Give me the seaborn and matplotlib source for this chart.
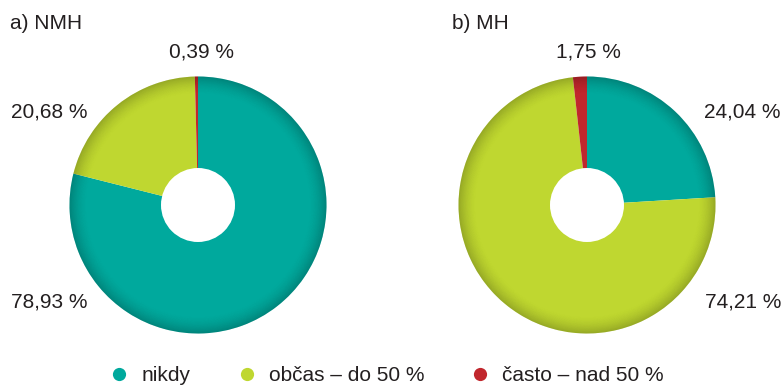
import numpy as np
import matplotlib
matplotlib.use("Agg")
import matplotlib.pyplot as plt
from matplotlib.patches import Wedge, Circle
from matplotlib.lines import Line2D
import seaborn as sns

sns.set_style("white")
plt.rcParams["font.family"] = ["Liberation Sans", "DejaVu Sans"]

categories = ["nikdy", "občas – do 50 %", "často – nad 50 %"]
panel_titles = ["a) NMH", "b) MH"]
nmh_values = [78.93, 20.68, 0.39]
mh_values = [24.04, 74.21, 1.75]
palette = sns.color_palette(["#00A99D", "#BFD730", "#C1272D"])

W, H = 784, 385
fig = plt.figure(figsize=(W / 100, H / 100), dpi=100)
ax = fig.add_axes([0, 0, 1, 1])
ax.set_xlim(0, W)
ax.set_ylim(0, H)
ax.set_aspect("equal")
ax.axis("off")

R_OUT, R_IN = 128.5, 37
FS = 15

def fmt(v):
    return f"{v:.2f}".replace(".", ",") + " %"

def donut(cx, cy, values):
    wedges, _ = ax.pie(values, colors=palette, startangle=90, counterclock=False,
                       radius=R_OUT, center=(cx, cy), frame=True,
                       wedgeprops=dict(linewidth=0))
    # darker soft rim
    n = 30
    radii = np.linspace(R_OUT * 0.86, R_OUT, n + 1)
    for i in range(n):
        t = (i + 1) / n
        ax.add_patch(Wedge((cx, cy), radii[i + 1], 0, 360,
                           width=radii[i + 1] - radii[i],
                           facecolor="black", alpha=0.22 * t ** 1.8, lw=0))
    ax.add_patch(Circle((cx, cy), R_IN, facecolor="white", lw=0))
    return wedges

lbl = dict(fontsize=FS, color="#231F20", va="baseline")

# a) NMH
cxa, cya = 198, H - 205
donut(cxa, cya, nmh_values)
ax.text(10, H - 29, panel_titles[0], ha="left", **lbl)
ax.text(202, H - 58, fmt(nmh_values[2]), ha="center", **lbl)
ax.text(11, H - 117, fmt(nmh_values[1]), ha="left", **lbl)
ax.text(11, H - 307, fmt(nmh_values[0]), ha="left", **lbl)

# b) MH
cxb, cyb = 587, H - 205
donut(cxb, cyb, mh_values)
ax.text(452, H - 29, panel_titles[1], ha="left", **lbl)
ax.text(588, H - 58, fmt(mh_values[2]), ha="center", **lbl)
ax.text(781, H - 117, fmt(mh_values[0]), ha="right", **lbl)
ax.text(781, H - 307, fmt(mh_values[1]), ha="right", **lbl)

ax.set_xlim(0, W)
ax.set_ylim(0, H)

handles = [Line2D([], [], marker="o", linestyle="", markersize=9.5,
                  markerfacecolor=c, markeredgewidth=0) for c in palette]
fig.legend(handles, categories, loc="center", bbox_to_anchor=(387.5 / W, 1 - 375.5 / H),
           ncol=3, frameon=False, fontsize=FS, handletextpad=0.66,
           columnspacing=2.29, handlelength=0.8, labelcolor="#231F20",
           borderpad=0, borderaxespad=0)

fig.savefig("out.png", dpi=100, facecolor="white")
